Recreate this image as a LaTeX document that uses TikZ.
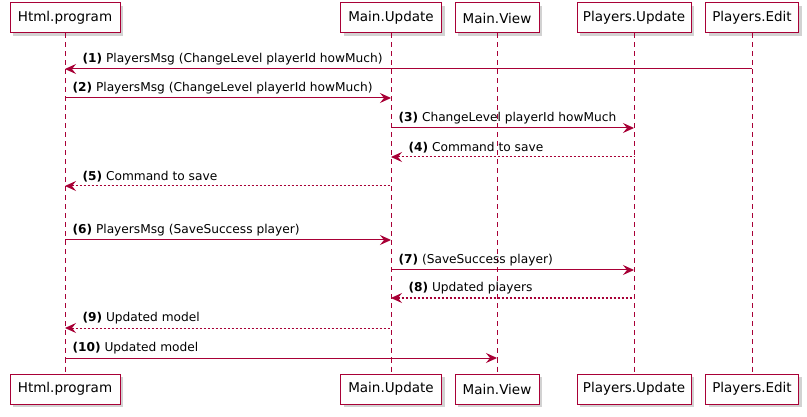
\documentclass[tikz,border=0pt]{standalone}
\usepackage{fontspec}
\setmainfont{DejaVu Sans}
\usepackage{xcolor}
\usepackage{tikz}
\usetikzlibrary{calc,arrows.meta,positioning,shadows}
\definecolor{umlred}{HTML}{A80036}
\definecolor{umlfill}{HTML}{FEFEFE}
\begin{document}
\begin{tikzpicture}[
  x=1pt, y=-1pt,
  part/.style={draw=umlred, line width=1pt, fill=umlfill, minimum height=30pt, inner sep=0pt,
    font=\fontsize{13.5}{15}\selectfont, drop shadow={shadow xshift=3pt, shadow yshift=-3pt, opacity=0.35}},
  life/.style={draw=umlred, line width=0.8pt, dash pattern=on 5pt off 4pt},
  msg/.style={draw=umlred, line width=1pt},
  ret/.style={msg, dash pattern=on 2pt off 2pt},
  umltip/.tip={Stealth[length=11pt, width=10pt, inset=4pt]},
  lbl/.style={anchor=south west, inner sep=0pt, yshift=3pt, font=\fontsize{12.2}{14}\selectfont}
]
\fill[white] (0,0) rectangle (807,417);
\useasboundingbox (0,0) rectangle (807,417);
% participants, top and bottom
\node[part, minimum width=110pt] (hp) at (65,18) {Html.program};
\node[part, minimum width=101pt] (mu) at (391,18) {Main.Update};
\node[part, minimum width=84pt] (mv) at (497,18) {Main.View};
\node[part, minimum width=114pt] (pu) at (634,18) {Players.Update};
\node[part, minimum width=93pt] (pe) at (752,18) {Players.Edit};
\node[part, minimum width=110pt] (hpb) at (65,389) {Html.program};
\node[part, minimum width=101pt] (mub) at (391,389) {Main.Update};
\node[part, minimum width=84pt] (mvb) at (497,389) {Main.View};
\node[part, minimum width=114pt] (pub) at (634,389) {Players.Update};
\node[part, minimum width=93pt] (peb) at (752,389) {Players.Edit};
\foreach \p in {hp,mu,mv,pu,pe} { \draw[life] (\p.south) -- (\p b.north); }
% message rows
\foreach \k/\y in {1/69,2/98,3/128,4/157,5/186,6/240,7/270,8/298,9/328,10/358} { \coordinate (m\k) at (0,\y); }
\draw[msg, umltip-] (hp |- m1) -- node[lbl, pos=0, xshift=17pt] {\textbf{(1)} PlayersMsg (ChangeLevel playerId howMuch)} (pe |- m1);
\draw[msg, -umltip] (hp |- m2) -- node[lbl, pos=0, xshift=7pt] {\textbf{(2)} PlayersMsg (ChangeLevel playerId howMuch)} (mu |- m2);
\draw[msg, -umltip] (mu |- m3) -- node[lbl, pos=0, xshift=7pt] {\textbf{(3)} ChangeLevel playerId howMuch} (pu |- m3);
\draw[ret, umltip-] (mu |- m4) -- node[lbl, pos=0, xshift=17pt] {\textbf{(4)} Command to save} (pu |- m4);
\draw[ret, umltip-] (hp |- m5) -- node[lbl, pos=0, xshift=17pt] {\textbf{(5)} Command to save} (mu |- m5);
\draw[msg, -umltip] (hp |- m6) -- node[lbl, pos=0, xshift=7pt] {\textbf{(6)} PlayersMsg (SaveSuccess player)} (mu |- m6);
\draw[msg, -umltip] (mu |- m7) -- node[lbl, pos=0, xshift=7pt] {\textbf{(7)} (SaveSuccess player)} (pu |- m7);
\draw[ret, umltip-] (mu |- m8) -- node[lbl, pos=0, xshift=17pt] {\textbf{(8)} Updated players} (pu |- m8);
\draw[ret, umltip-] (hp |- m9) -- node[lbl, pos=0, xshift=17pt] {\textbf{(9)} Updated model} (mu |- m9);
\draw[msg, -umltip] (hp |- m10) -- node[lbl, pos=0, xshift=7pt] {\textbf{(10)} Updated model} (mv |- m10);
\end{tikzpicture}
\end{document}
